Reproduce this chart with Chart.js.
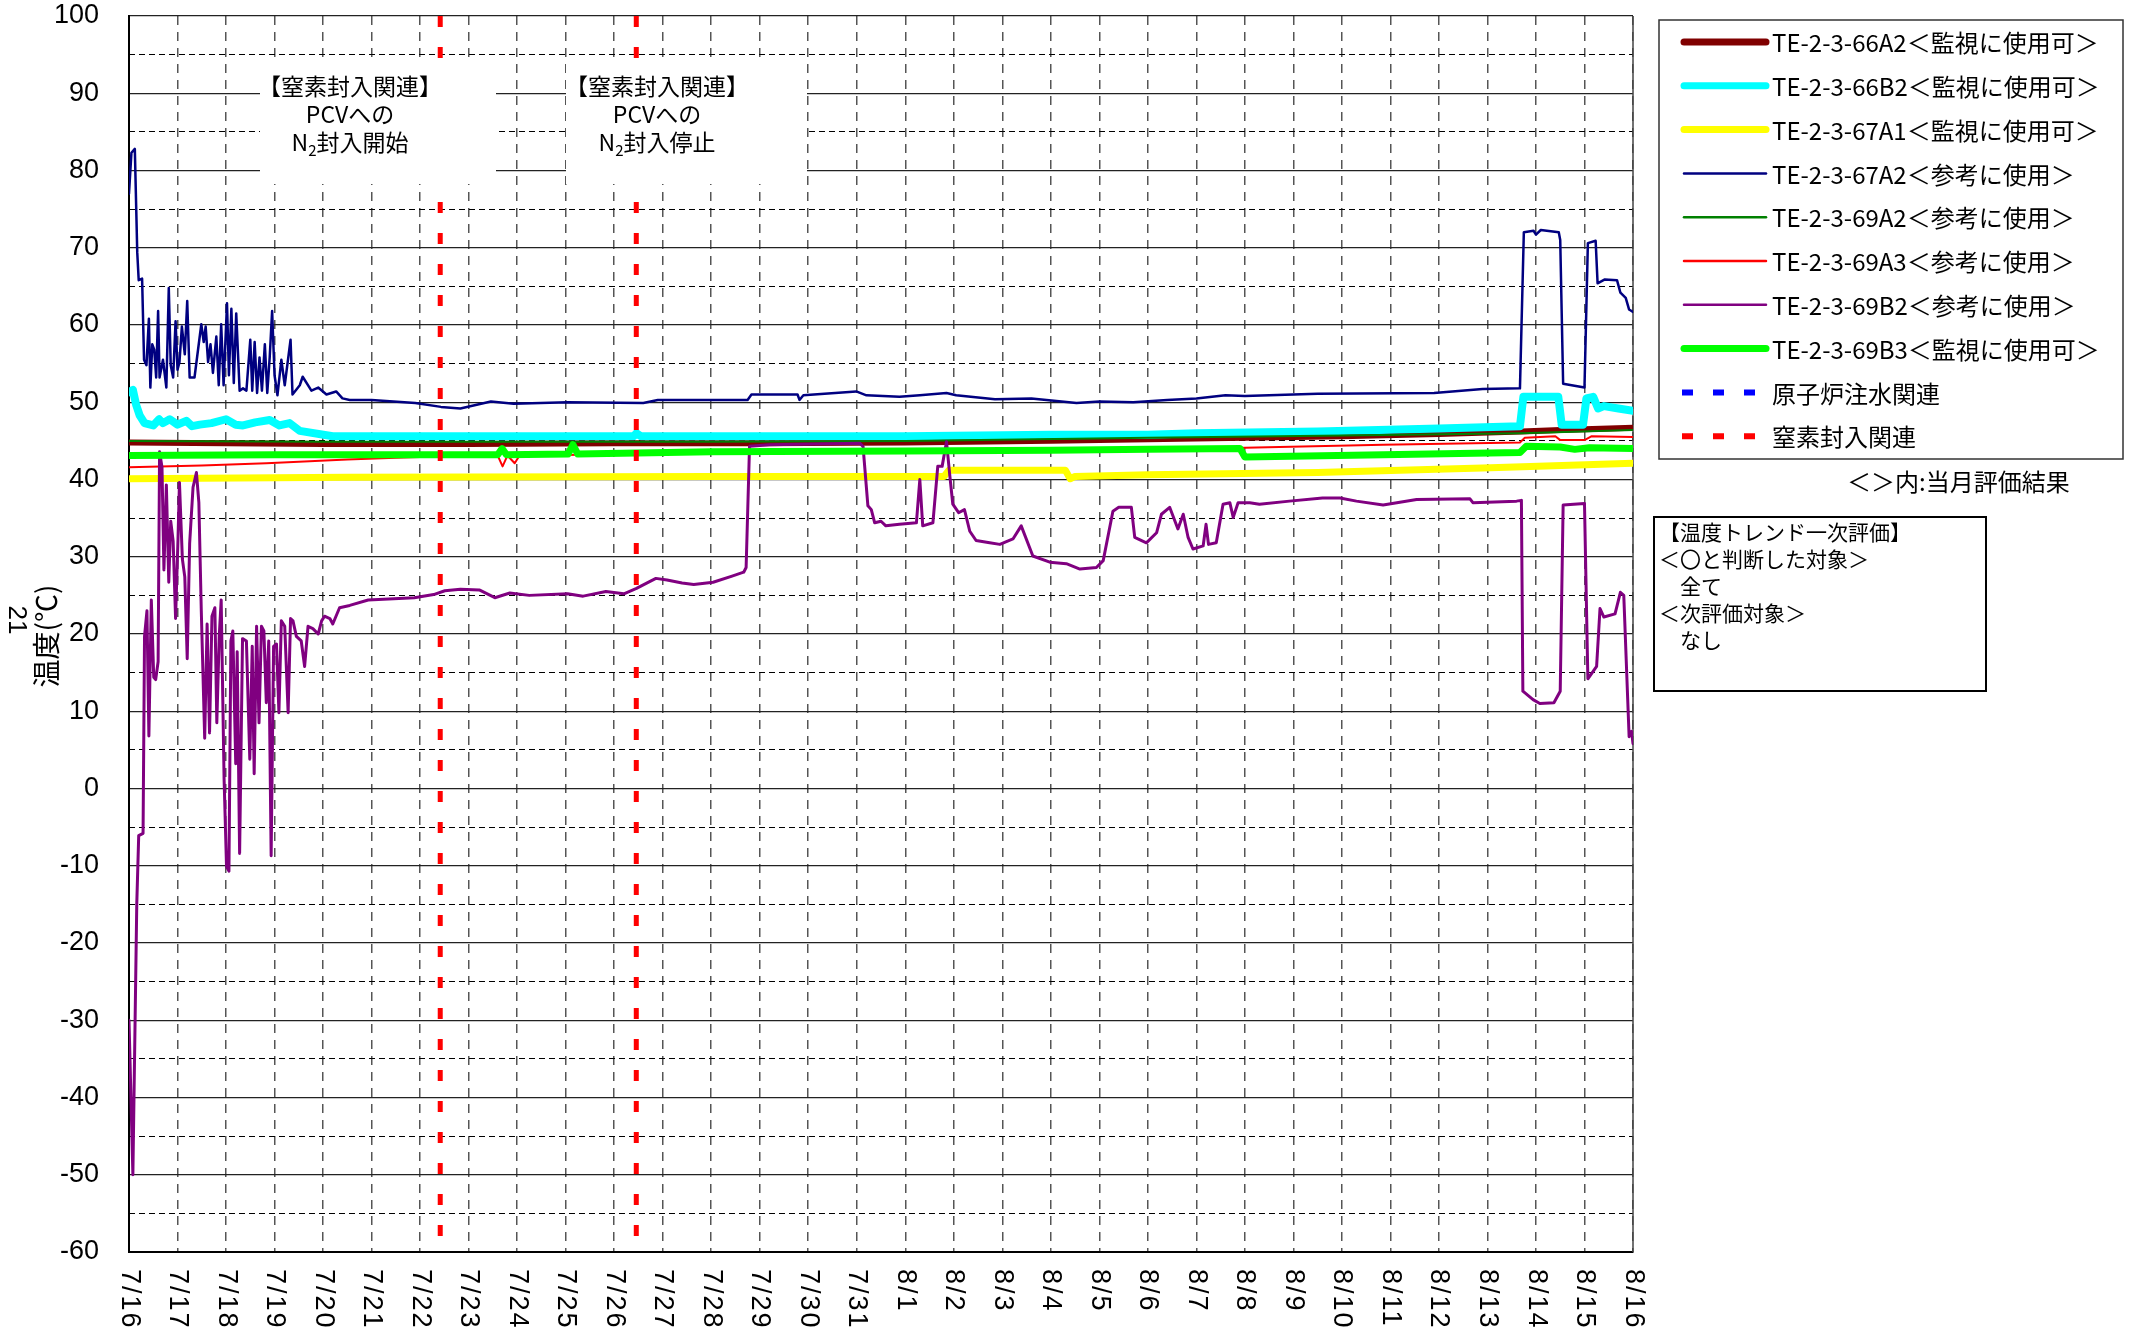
<!DOCTYPE html>
<html>
<head>
<meta charset="utf-8">
<script src="https://cdn.jsdelivr.net/npm/chart.js@4.4.1/dist/chart.umd.min.js"></script>
<style>
  html, body { margin: 0; padding: 0; background: #fff; }
  #wrap { width: 2134px; height: 1337px; }
</style>
</head>
<body>
<div id="wrap"><canvas id="chart" width="2134" height="1337"></canvas></div>
<script>
// days counted from 7/16 0:00
const dateLabels = ['7/16','7/17','7/18','7/19','7/20','7/21','7/22','7/23','7/24','7/25','7/26','7/27','7/28','7/29','7/30','7/31',
  '8/1','8/2','8/3','8/4','8/5','8/6','8/7','8/8','8/9','8/10','8/11','8/12','8/13','8/14','8/15','8/16'];

const seriesNames = [
  'TE-2-3-66A2＜監視に使用可＞',
  'TE-2-3-66B2＜監視に使用可＞',
  'TE-2-3-67A1＜監視に使用可＞',
  'TE-2-3-67A2＜参考に使用＞',
  'TE-2-3-69A2＜参考に使用＞',
  'TE-2-3-69A3＜参考に使用＞',
  'TE-2-3-69B2＜参考に使用＞',
  'TE-2-3-69B3＜監視に使用可＞',
  '原子炉注水関連',
  '窒素封入関連'
];

// [day, °C]
const te66A2 = [[0,44.8],[2,44.7],[4,44.6],[7,44.6],[10,44.7],[13,44.7],[16,44.8],[19,45],[21,45.2],[23,45.4],[25,45.6],[27,45.9],[28.7,46.2],[29.5,46.4],[30,46.5],[31,46.7]];

const te66B2 = [[0,51.3],[0.08,51.6],[0.15,49.6],[0.22,48.3],[0.32,47.3],[0.5,47],[0.62,47.8],[0.7,47.3],[0.84,47.8],[1,47.1],[1.18,47.6],[1.3,46.9],[1.46,47.1],[1.7,47.3],[2.0,47.8],[2.2,47.1],[2.35,47],[2.6,47.4],[2.9,47.7],[3.1,47],[3.31,47.3],[3.52,46.3],[4.2,45.6],[5,45.6],[8,45.6],[10.4,45.6],[10.46,46],[10.55,45.6],[12,45.6],[16,45.6],[19,45.8],[21,45.8],[22,46],[24.5,46.2],[27,46.6],[28.67,46.9],[28.74,50.7],[29.46,50.7],[29.53,47.1],[29.97,47.1],[30.04,50.5],[30.18,50.7],[30.28,49.2],[30.4,49.5],[30.7,49.2],[31,48.9]];

const te67A1 = [[0,40.1],[4.5,40.3],[12,40.4],[16.8,40.4],[16.9,41.2],[19.3,41.2],[19.4,40.1],[19.5,40.4],[21,40.6],[24.5,40.9],[27.9,41.5],[31,42.1]];

const te67A2 = [[0,77],[0.05,82.3],[0.12,82.8],[0.17,69.4],[0.2,65.8],[0.27,66],[0.31,55.5],[0.36,54.8],[0.41,60.8],[0.44,51.9],[0.48,57.5],[0.52,56.8],[0.56,53.2],[0.6,61.8],[0.63,53.2],[0.7,55.5],[0.77,51.9],[0.82,64.8],[0.86,54.8],[0.91,53.2],[0.96,60.5],[1.0,54.2],[1.04,55.2],[1.09,59.8],[1.15,56.2],[1.2,63.1],[1.25,53.2],[1.35,53.2],[1.49,60.1],[1.54,57.8],[1.58,59.8],[1.63,55.2],[1.68,57.5],[1.73,53.8],[1.8,58.5],[1.85,52.2],[1.9,60.1],[1.95,52.2],[2.02,62.8],[2.06,53.5],[2.11,62.1],[2.16,52.5],[2.21,61.5],[2.28,51.5],[2.35,51.8],[2.42,51.5],[2.5,58.1],[2.54,51.5],[2.59,57.8],[2.64,51.2],[2.69,55.8],[2.74,51.5],[2.8,57.5],[2.85,51.2],[2.9,55.8],[2.95,61.8],[3.0,53.5],[3.06,50.9],[3.14,55.5],[3.21,52.2],[3.33,58.1],[3.37,51],[3.52,52.2],[3.58,53.3],[3.76,51.5],[3.9,51.9],[4.07,51],[4.27,51.4],[4.4,50.5],[4.55,50.3],[5,50.3],[5.9,49.9],[6.43,49.4],[6.83,49.2],[7.46,50.1],[7.93,49.8],[9.04,50],[10.6,49.9],[10.9,50.3],[12.75,50.3],[12.83,51],[13.78,51],[13.82,50.3],[13.9,50.9],[14.99,51.4],[15.2,50.9],[15.88,50.7],[16.3,50.9],[16.85,51.2],[17.05,50.9],[17.85,50.4],[18.6,50.5],[19.53,49.9],[20.0,50.1],[20.7,50],[21.4,50.3],[22,50.5],[22.6,50.9],[23,50.8],[24.5,51.1],[26.9,51.2],[27.9,51.7],[28.67,51.8],[28.75,72],[28.95,72.2],[29.0,71.7],[29.1,72.3],[29.47,72],[29.5,71],[29.56,52.4],[30.0,51.9],[30.07,70.6],[30.23,70.9],[30.27,65.4],[30.42,65.9],[30.67,65.8],[30.74,64.2],[30.85,63.5],[30.92,62],[31,61.7]];

const te69A2 = [[0,45],[4,44.9],[8,44.9],[12,44.9],[16,45],[21,45.4],[25,45.7],[28.7,46],[31,46.4]];

const te69A3 = [[0,41.6],[1.5,41.8],[2.83,42.1],[3.5,42.3],[4.5,42.6],[5.5,42.8],[6.5,43],[7.6,43.1],[7.7,41.7],[7.8,43.1],[7.95,42.1],[8.05,43.1],[12,43.4],[16,43.5],[20,43.7],[23,44.1],[25.85,44.5],[28.67,44.8],[28.77,45.4],[29.4,45.6],[29.5,45.1],[30,45.1],[30.15,45.6],[31,45.5]];

const te69B2 = [[0,-30],[0.08,-50],[0.16,-15],[0.2,-6.1],[0.29,-5.8],[0.32,19.7],[0.37,23],[0.41,6.8],[0.46,24.4],[0.51,14.4],[0.55,14.1],[0.6,16.4],[0.63,43.6],[0.68,41.6],[0.72,28.3],[0.77,39.3],[0.82,26.7],[0.86,34.6],[0.91,32],[0.96,22],[1.01,32.3],[1.04,39.6],[1.1,29.7],[1.15,27.4],[1.2,16.8],[1.25,31.7],[1.32,39],[1.39,40.9],[1.44,37],[1.49,23],[1.56,6.5],[1.61,21.3],[1.66,7.2],[1.71,22.3],[1.77,23.4],[1.81,8.5],[1.86,19.7],[1.9,24.4],[1.96,1.2],[2.01,-10.1],[2.06,-10.7],[2.1,19.1],[2.14,20.4],[2.2,3.2],[2.23,17.7],[2.28,-8.4],[2.34,19.4],[2.42,19.1],[2.49,3.8],[2.54,18.4],[2.58,1.9],[2.63,21],[2.68,8.5],[2.73,21],[2.78,20.4],[2.83,11.1],[2.88,19.1],[2.93,-8.7],[2.98,18.4],[3.04,18.7],[3.09,9.8],[3.14,21.7],[3.21,21],[3.28,9.8],[3.33,22],[3.38,21.7],[3.45,19.7],[3.55,19.1],[3.62,15.8],[3.69,21],[3.79,20.7],[3.9,20],[3.97,21.7],[4.03,22.3],[4.14,22],[4.2,21.3],[4.34,23.4],[4.55,23.7],[4.93,24.4],[5.88,24.7],[6.28,25.1],[6.51,25.6],[6.83,25.8],[7.22,25.7],[7.54,24.7],[7.85,25.3],[8.25,25],[9.04,25.2],[9.36,24.9],[9.83,25.5],[10.2,25.2],[10.46,25.9],[10.86,27.2],[11.09,27],[11.4,26.6],[11.64,26.4],[12.04,26.7],[12.43,27.5],[12.67,28],[12.72,28.6],[12.79,44.3],[13.2,44.5],[15.06,44.7],[15.13,44.3],[15.23,36.6],[15.3,36.1],[15.37,34.4],[15.5,34.6],[15.6,34],[15.88,34.2],[16.23,34.4],[16.3,40],[16.36,34],[16.57,34.4],[16.67,41.7],[16.76,41.7],[16.85,44.9],[16.92,40.4],[16.98,36.8],[17.1,35.7],[17.22,36.1],[17.33,33.3],[17.46,32.1],[17.74,31.8],[17.95,31.6],[18.22,32.3],[18.39,34],[18.63,30.1],[18.98,29.3],[19.32,29.1],[19.6,28.4],[19.94,28.6],[20.08,29.5],[20.28,35.9],[20.4,36.4],[20.66,36.4],[20.73,32.5],[20.97,31.8],[21.18,33.1],[21.28,35.5],[21.45,36.4],[21.62,33.6],[21.73,35.5],[21.83,32.5],[21.93,31],[22.14,31.4],[22.2,34.2],[22.25,31.6],[22.41,31.8],[22.55,36.8],[22.69,37],[22.76,35.1],[22.86,37],[23.1,37],[23.3,36.8],[23.92,37.2],[24.6,37.6],[24.96,37.6],[25.3,37.2],[25.85,36.7],[26.54,37.4],[27.64,37.5],[27.7,37],[28.6,37.2],[28.7,37.3],[28.73,12.6],[28.94,11.5],[29.08,11],[29.37,11.1],[29.5,12.6],[29.56,36.7],[30.0,36.9],[30.07,14.2],[30.25,15.8],[30.32,23.3],[30.4,22.2],[30.63,22.6],[30.74,25.4],[30.81,25],[30.92,6.7],[30.97,7.4],[31,5.8]];

const te69B3 = [[0,43.1],[3,43.2],[6,43.2],[7.6,43.2],[7.69,44],[7.78,43.2],[9.05,43.3],[9.15,44.5],[9.25,43.3],[12,43.6],[16,43.7],[19,43.8],[21,43.9],[22.9,44],[23,42.9],[25.85,43.2],[28.67,43.5],[28.8,44.3],[29.5,44.2],[29.8,43.9],[30.1,44.1],[31,44]];

const injectionDays = [];              // 原子炉注水関連: none this period
const nitrogenDays = [6.415, 10.456];  // 窒素封入関連

const evalLines = ['【温度トレンド一次評価】', '＜〇と判断した対象＞', '　全て', '＜次評価対象＞', '　なし'];
const noteTitle = '【窒素封入関連】';
const noteLine2 = 'PCVへの';
const noteActions = ['封入開始', '封入停止'];

const toXY = arr => arr.map(([x, y]) => ({ x, y }));
const vLines = days => {
  const out = [];
  days.forEach((d, i) => {
    if (i > 0) out.push({ x: d - 0.01, y: null });
    out.push({ x: d, y: 100 }, { x: d, y: -60 });
  });
  return out;
};

const JP = '"Noto Sans CJK JP", "Noto Sans", sans-serif';
const LAT = '"Liberation Sans", Arial, sans-serif';

const series = [te66A2, te66B2, te67A1, te67A2, te69A2, te69A3, te69B2, te69B3];
const colors = ['#800000', '#00FFFF', '#FFFF00', '#000080', '#008000', '#FF0000', '#800080', '#00FF00'];
const widths = [6, 8, 7, 2.5, 2, 2, 3, 7];

const datasets = series.map((s, i) => ({
  label: seriesNames[i],
  data: toXY(s),
  borderColor: colors[i],
  borderWidth: widths[i],
  order: 20 - i
}));
datasets.push({ label: seriesNames[8], data: vLines(injectionDays), borderColor: '#0000FF', borderWidth: 5, borderDash: [11, 20], borderCapStyle: 'butt', order: 2, spanGaps: false });
datasets.push({ label: seriesNames[9], data: vLines(nitrogenDays), borderColor: '#FF0000', borderWidth: 5, borderDash: [11, 20], borderCapStyle: 'butt', order: 1, spanGaps: false });

const decorations = {
  id: 'decorations',
  beforeDatasetsDraw(chart) {
    const { ctx, chartArea: a } = chart;
    ctx.save();
    ctx.strokeStyle = '#444';
    ctx.lineWidth = 1.5;
    ctx.beginPath();
    ctx.moveTo(a.right, a.top);
    ctx.lineTo(a.right, a.bottom);
    ctx.stroke();
    ctx.restore();
  },
  afterDatasetsDraw(chart) {
    const { ctx } = chart;
    const boxes = [[260, 58, 236, 126, 350], [566, 58, 241, 126, 657]];
    ctx.save();
    boxes.forEach((b, i) => {
      ctx.fillStyle = '#fff';
      ctx.fillRect(b[0], b[1], b[2], b[3]);
      ctx.fillStyle = '#000';
      ctx.textBaseline = 'middle';
      ctx.textAlign = 'center';
      ctx.font = '23px ' + JP;
      ctx.fillText(noteTitle, b[4], 86);
      ctx.fillText(noteLine2, b[4], 114);
      // N2 with subscript
      ctx.textAlign = 'left';
      const big = '23px ' + JP, small = '15px ' + JP;
      ctx.font = big; const wN = ctx.measureText('N').width;
      const wR = ctx.measureText(noteActions[i]).width;
      ctx.font = small; const w2 = ctx.measureText('2').width;
      const x0 = b[4] - (wN + w2 + wR) / 2;
      ctx.font = big; ctx.fillText('N', x0, 142);
      ctx.font = small; ctx.fillText('2', x0 + wN, 150);
      ctx.font = big; ctx.fillText(noteActions[i], x0 + wN + w2, 142);
    });
    ctx.restore();
  },
  afterDraw(chart) {
    const { ctx, chartArea: a } = chart;
    const xs = chart.scales.x;
    ctx.save();
    // x tick labels, rotated to read downward
    ctx.fillStyle = '#000';
    ctx.font = '27px ' + LAT;
    ctx.letterSpacing = '2px';
    ctx.textAlign = 'left';
    ctx.textBaseline = 'middle';
    dateLabels.forEach((lab, i) => {
      ctx.save();
      ctx.translate(xs.getPixelForValue(i), a.bottom + 17);
      ctx.rotate(Math.PI / 2);
      ctx.fillText(lab, 0, 0);
      ctx.restore();
    });
    ctx.letterSpacing = '0px';

    // y axis title
    ctx.save();
    ctx.translate(46, 636);
    ctx.rotate(-Math.PI / 2);
    ctx.textAlign = 'center';
    ctx.font = '28px ' + JP;
    ctx.fillText('温度(℃)', 0, 0);
    ctx.restore();
    ctx.save();
    ctx.translate(16, 620);
    ctx.rotate(Math.PI / 2);
    ctx.textAlign = 'center';
    ctx.font = '26px ' + LAT;
    ctx.fillText('21', 0, 0);
    ctx.restore();

    // legend
    ctx.strokeStyle = '#333';
    ctx.lineWidth = 1.5;
    ctx.strokeRect(1659, 20, 464, 439);
    ctx.font = '24px ' + JP;
    ctx.textAlign = 'left';
    chart.data.datasets.forEach((ds, i) => {
      const y = 42 + i * 43.8;
      const dashed = !!ds.borderDash;
      ctx.save();
      ctx.strokeStyle = ds.borderColor;
      ctx.lineWidth = dashed ? 6 : (ds.borderWidth >= 5 ? 7 : 2.5);
      ctx.lineCap = dashed ? 'butt' : 'round';
      ctx.setLineDash(dashed ? ds.borderDash : []);
      ctx.beginPath();
      if (dashed) { ctx.moveTo(1682, y); ctx.lineTo(1755, y); }
      else { ctx.moveTo(1684, y); ctx.lineTo(1766, y); }
      ctx.stroke();
      ctx.restore();
      ctx.fillStyle = '#000';
      ctx.fillText(ds.label, 1772, y + 1);
    });
    ctx.fillText('＜＞内:当月評価結果', 1847, 482);

    // evaluation box
    ctx.lineWidth = 2;
    ctx.strokeStyle = '#000';
    ctx.strokeRect(1654, 517, 332, 174);
    ctx.font = '21px ' + JP;
    evalLines.forEach((t, i) => ctx.fillText(t, 1659, 532 + i * 27));
    ctx.restore();
  }
};

new Chart(document.getElementById('chart').getContext('2d'), {
  type: 'line',
  data: { datasets },
  plugins: [decorations],
  options: {
    responsive: false,
    animation: false,
    layout: { padding: { top: 16, right: 501, bottom: 0, left: 0 } },
    plugins: { legend: { display: false }, tooltip: { enabled: false } },
    elements: {
      point: { radius: 0 },
      line: { tension: 0, borderCapStyle: 'round', borderJoinStyle: 'round' }
    },
    scales: {
      x: {
        type: 'linear', min: 0, max: 31,
        ticks: { stepSize: 1, display: false },
        grid: { color: '#555', lineWidth: 1.5, drawTicks: false },
        border: { display: true, color: '#000', width: 2, dash: [9, 7] },
        afterFit(s) { s.height = 85; s.paddingLeft = 0; s.paddingRight = 0; }
      },
      y: {
        min: -60, max: 100,
        ticks: { stepSize: 10, padding: 30, color: '#000', font: { family: LAT, size: 27 } },
        grid: { color: '#222', lineWidth: 1.2, drawTicks: false },
        border: { color: '#000', width: 2 },
        afterFit(s) { s.width = 129; s.paddingTop = 0; s.paddingBottom = 0; }
      },
      y2: {
        position: 'left', min: -60, max: 100,
        ticks: { stepSize: 5, display: false },
        grid: { color: c => (c.tick && c.tick.value % 10 === 0) ? 'rgba(0,0,0,0)' : '#000', lineWidth: 1, drawTicks: false },
        border: { display: false, dash: [6, 4] },
        afterFit(s) { s.width = 0; s.paddingTop = 0; s.paddingBottom = 0; }
      }
    }
  }
});
</script>
</body>
</html>
